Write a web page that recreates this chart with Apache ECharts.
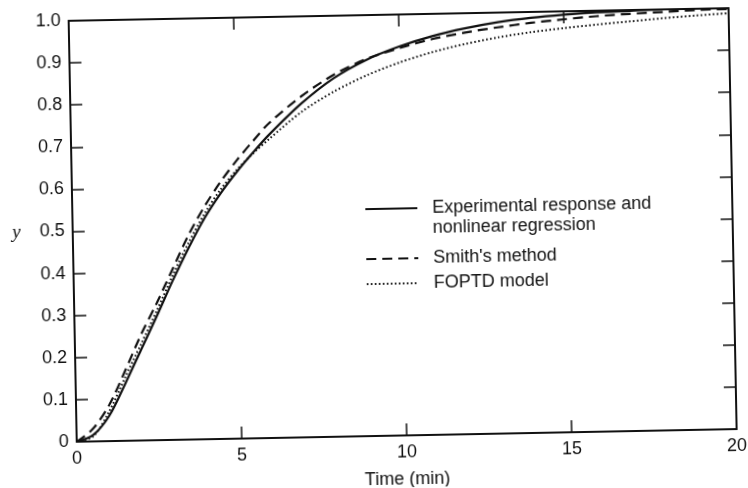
<!DOCTYPE html>
<html><head><meta charset="utf-8">
<script src="https://cdn.jsdelivr.net/npm/echarts@6/dist/echarts.min.js"></script>
<style>
html,body{margin:0;padding:0;background:#fff;overflow:hidden}
#c{width:748px;height:488px;transform:rotate(-1.1deg);transform-origin:374px 244px}
</style>
</head><body><div id="c"></div>
<script>
const time = [0,0.5,1,1.5,2,2.5,3,3.5,4,4.5,5,5.5,6,7,8,9,10,11,12,13,14,15,16,17,18,19,20];
const experimental = [0,0.015,0.06,0.135,0.215,0.295,0.378,0.455,0.525,0.583,0.633,0.678,0.72,0.793,0.852,0.894,0.924,0.947,0.964,0.977,0.986,0.992,0.996,0.998,1.0,1.0,1.0];
const smith = [0,0.03,0.085,0.165,0.25,0.325,0.405,0.485,0.552,0.61,0.66,0.705,0.747,0.81,0.86,0.896,0.92,0.94,0.954,0.965,0.974,0.981,0.987,0.991,0.994,0.997,0.998];
const foptd = [0,0.012,0.07,0.15,0.228,0.307,0.39,0.467,0.535,0.592,0.638,0.676,0.71,0.773,0.82,0.857,0.886,0.909,0.927,0.941,0.952,0.96,0.967,0.973,0.979,0.984,0.988];
const seriesNames = ['Experimental response and nonlinear regression', "Smith's method", 'FOPTD model'];
const legendLabels = ['\nExperimental response and\nnonlinear regression', "Smith's method", 'FOPTD model'];
const xLabel = 'Time (min)';
const yLabel = 'y';

const FONT = '"Liberation Sans", Arial, sans-serif';
const INK = '#111';
const pairs = arr => time.map((t, i) => [t, arr[i]]);

const chart = echarts.init(document.getElementById('c'), null, {renderer: 'canvas'});

const axisLineStyle = {show: true, onZero: false, lineStyle: {color: INK, width: 2}};
const tickStyle = {show: true, inside: true, length: 12, lineStyle: {color: INK, width: 1.5}};

function legendFor(i, top, padTop) {
  return {
    data: [seriesNames[i]],
    orient: 'vertical',
    left: 365,
    top: top,
    padding: 0,
    itemWidth: 52,
    itemHeight: 14,
    itemStyle: {opacity: 0},
    formatter: () => legendLabels[i],
    textStyle: {fontFamily: FONT, fontSize: 18, color: INK, lineHeight: 20, padding: [padTop, 0, 0, 10]}
  };
}

chart.setOption({
  animation: false,
  backgroundColor: '#fff',
  grid: {left: 73, right: 15, top: 15, bottom: 52, containLabel: false, outerBoundsMode: 'none'},
  legend: [
    legendFor(0, 171, 16),
    legendFor(1, 243, 12),
    legendFor(2, 268, 12)
  ],
  xAxis: [
    {
      type: 'value', min: 0, max: 20, interval: 5, position: 'bottom',
      axisLine: axisLineStyle, axisTick: tickStyle, splitLine: {show: false},
      axisLabel: {margin: 8, fontFamily: FONT, fontSize: 18, color: INK},
      name: xLabel, nameLocation: 'middle', nameGap: 35,
      nameTextStyle: {fontFamily: FONT, fontSize: 18, color: INK}
    },
    {
      type: 'value', min: 0, max: 20, interval: 5, position: 'top',
      axisLine: axisLineStyle, axisTick: tickStyle, splitLine: {show: false},
      axisLabel: {show: false}
    }
  ],
  yAxis: [
    {
      type: 'value', min: 0, max: 1, interval: 0.1, position: 'left',
      axisLine: axisLineStyle, axisTick: tickStyle, splitLine: {show: false},
      axisLabel: {margin: 8, fontFamily: FONT, fontSize: 18, color: INK,
        formatter: v => (Math.abs(v) < 1e-9 ? '0' : v.toFixed(1))},
      name: yLabel, nameLocation: 'middle', nameRotate: 0, nameGap: 52,
      nameTextStyle: {fontFamily: '"Liberation Serif", "Times New Roman", serif', fontStyle: 'italic', fontSize: 19, color: INK}
    },
    {
      type: 'value', min: 0, max: 1, interval: 0.1, position: 'right',
      axisLine: axisLineStyle, axisTick: tickStyle, splitLine: {show: false},
      axisLabel: {show: false}
    }
  ],
  series: [
    {name: seriesNames[0], type: 'line', data: pairs(experimental), symbol: 'none',
      smooth: 0.3, xAxisIndex: 0, yAxisIndex: 0,
      lineStyle: {color: INK, width: 2.2, type: 'solid'}, itemStyle: {color: INK}},
    {name: seriesNames[1], type: 'line', data: pairs(smith), symbol: 'none',
      smooth: 0.3, xAxisIndex: 0, yAxisIndex: 0,
      lineStyle: {color: INK, width: 2.2, type: [10, 6]}, itemStyle: {color: INK}},
    {name: seriesNames[2], type: 'line', data: pairs(foptd), symbol: 'none',
      smooth: 0.3, xAxisIndex: 0, yAxisIndex: 0,
      lineStyle: {color: INK, width: 2, type: [1.6, 2.4]}, itemStyle: {color: INK}}
  ]
});
</script>
</body></html>
